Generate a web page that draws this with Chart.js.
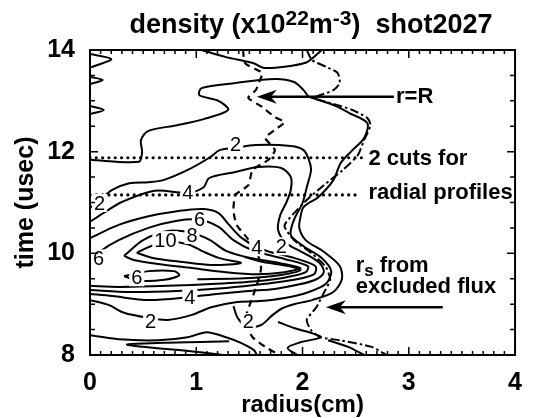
<!DOCTYPE html>
<html><head><meta charset="utf-8">
<script src="https://cdn.jsdelivr.net/npm/chart.js@4.4.1/dist/chart.umd.min.js"></script>
<style>html,body{margin:0;padding:0;background:#fff}canvas{display:block}</style>
</head><body>
<canvas id="c" width="535" height="418"></canvas>
<script>
// ---- axis ticks ----
const xTicks = [0, 1, 2, 3, 4];
const yTicks = [8, 10, 12, 14];

// ---- contour lines, points are [radius (cm), time (usec)] ----
const contourTop = [[1.05,14],[1.28,13.86],[1.54,13.74],[1.63,13.65],[1.83,13.67],[2.04,13.76],[2.15,13.94],[2.18,14]];
const wedge1 = [[0,13.92],[0.20,13.82],[0.05,13.69],[0,13.65]];
const wedge2 = [[0,13.47],[0.12,13.41],[0,13.33]];
const wedge3 = [[0,12.90],[0.13,12.82],[0,12.74]];
const contourOuter = [[0,11.84],[0.46,11.80],[0.49,11.99],[0.48,12.23],[0.55,12.41],[0.82,12.52],[1.07,12.64],[1.30,12.82],[1.21,13.00],[1.03,13.11],[1.05,13.25],[1.37,13.35],[1.74,13.43],[1.92,13.37],[2.01,13.21],[2.06,13.08],[2.15,13.02],[2.31,12.90],[2.44,12.76],[2.61,12.56],[2.58,12.27],[2.47,12.03],[2.36,11.78],[2.29,11.44],[2.15,11.11],[2.01,10.91],[1.98,10.71],[1.97,10.50],[2.03,10.26],[2.20,10.03],[2.35,9.75],[2.37,9.49],[2.29,9.24],[2.09,9.08],[1.92,9.00],[1.81,8.92],[1.72,8.79],[1.61,8.59],[1.48,8.55],[1.39,8.73],[1.35,8.96]];
const contour2 = [[0,10.89],[0.09,11.05],[0.21,11.25],[0.37,11.38],[0.55,11.40],[0.69,11.44],[0.92,11.64],[1.13,11.89],[1.22,12.03],[1.35,12.07],[1.56,12.13],[1.89,12.11],[2.01,12.03],[2.06,11.84],[2.08,11.64],[2.04,11.30],[2.00,10.99],[1.92,10.66],[1.89,10.36],[2.01,10.14],[2.18,9.91],[2.27,9.65],[2.22,9.40],[2.06,9.24],[1.83,9.12],[1.60,9.06],[1.37,9.04],[1.14,8.94],[0.96,8.79],[0.73,8.69],[0.55,8.73],[0.32,8.83],[0.18,8.98],[0,9.08]];
const contour4 = [[0,10.62],[0.14,10.81],[0.30,11.01],[0.61,11.23],[0.92,11.19],[1.07,11.30],[1.12,11.48],[1.37,11.60],[1.58,11.70],[1.80,11.68],[1.89,11.50],[1.89,11.25],[1.85,11.01],[1.79,10.75],[1.77,10.46],[1.85,10.20],[2.01,10.01],[2.16,9.81],[2.20,9.63],[2.12,9.48],[1.95,9.38],[1.74,9.30],[1.49,9.26],[1.19,9.20],[0.94,9.14],[0.55,9.08],[0.21,9.16],[0,9.20]];
const contour5 = [[0,10.30],[0.27,10.56],[0.55,10.73],[0.82,10.83],[1.07,10.87],[1.21,10.79],[1.30,10.58],[1.43,10.30],[1.63,10.07],[1.92,9.91],[2.12,9.75],[2.11,9.59],[1.92,9.48],[1.65,9.40],[1.28,9.32],[0.82,9.26],[0.37,9.24],[0,9.28]];
const contour6 = [[0,9.83],[0.09,10.03],[0.27,10.26],[0.55,10.50],[0.82,10.64],[1.03,10.66],[1.21,10.52],[1.35,10.26],[1.54,10.05],[1.83,9.89],[2.05,9.75],[2.03,9.63],[1.85,9.53],[1.56,9.45],[1.19,9.40],[0.73,9.36],[0.27,9.34],[0,9.36]];
const contour8 = [[0.32,9.95],[0.50,10.26],[0.73,10.44],[0.96,10.40],[1.13,10.26],[1.28,10.05],[1.51,9.91],[1.78,9.81],[1.98,9.71],[1.83,9.63],[1.57,9.59],[1.28,9.63],[0.96,9.71],[0.64,9.79],[0.41,9.87],[0.32,9.95]];
const contour10 = [[0.44,10.01],[0.57,10.14],[0.73,10.22],[0.92,10.18],[1.05,10.05],[1.21,9.91],[1.42,9.81],[1.14,9.77],[0.87,9.83],[0.59,9.91],[0.44,10.01]];
const contourHook = [[1.01,9.49],[1.46,9.51],[1.78,9.57],[1.98,9.67],[1.87,9.75],[1.63,9.83],[1.45,9.93]];
const contour6low = [[0.32,9.55],[0.55,9.65],[0.79,9.65],[0.84,9.57],[0.70,9.48],[0.46,9.46],[0.32,9.55]];
const contourLow = [[0,8.39],[0.27,8.31],[0.64,8.29],[0.92,8.35],[1.10,8.45],[1.28,8.35],[1.42,8.24],[1.54,8.10],[1.57,8]];
const wedgeLow = [[1.31,8.27],[0.70,8.24],[0.35,8.20],[1.01,8.06],[1.25,8]];
const contourRight = [[1.77,8.65],[1.92,8.53],[2.09,8.43],[2.17,8.35],[1.98,8.25],[1.86,8.14],[1.95,8]];
const contourEdge = [[2.24,8.29],[2.43,8.16],[2.58,8]];

// r = R (dashed) and r_s from excluded flux (dash-dot)
const rEqualsR = [[1.44,14],[1.46,13.74],[1.62,13.55],[1.60,13.41],[1.56,13.21],[1.49,13.06],[1.62,12.88],[1.74,12.68],[1.83,12.58],[1.74,12.43],[1.65,12.27],[1.74,12.03],[1.68,11.84],[1.53,11.64],[1.49,11.34],[1.37,11.15],[1.35,10.85],[1.38,10.56],[1.48,10.30],[1.57,10.03],[1.61,9.71],[1.57,9.38],[1.52,9.08],[1.48,8.85],[1.46,8.65],[1.53,8.35],[1.65,8.16],[1.78,8]];
const rsExcludedFlux = [[2.04,14],[2.09,13.80],[2.22,13.67],[2.33,13.55],[2.35,13.35],[2.29,13.21],[2.15,13.10],[2.09,13.06],[2.29,12.94],[2.47,12.82],[2.61,12.66],[2.64,12.52],[2.58,12.23],[2.52,11.93],[2.38,11.64],[2.20,11.34],[2.06,11.09],[1.92,10.79],[1.83,10.54],[1.92,10.26],[2.08,10.01],[2.22,9.73],[2.26,9.48],[2.20,9.22],[2.13,8.94],[2.04,8.69],[2.08,8.49],[2.17,8.35],[2.35,8.29],[2.65,8.16],[2.79,8]];

// two radial-profile cuts
const cutTimes = [11.88, 11.15];
const cutEnds = [2.59, 2.55];

// contour level labels
const levelLabels = ['2','2','4','4','4','2','6','6','8','10','6','2','2'];
const levelLabelR = [1.37,0.09,0.92,0.94,1.57,1.80,0.08,1.03,0.96,0.71,0.44,0.57,1.49];
const levelLabelT = [12.15,10.99,11.19,9.14,10.12,10.14,9.90,10.66,10.36,10.26,9.53,8.65,8.65];

const solidLines = [contourTop,wedge1,wedge2,wedge3,contourOuter,contour2,contour4,contour5,contour6,contour8,contour10,contourHook,contour6low,contourLow,wedgeLow,contourRight,contourEdge];

const toXY = a => a.map(p => ({x:p[0], y:p[1]}));
const datasets = [];
solidLines.forEach(l => datasets.push({data:toXY(l), showLine:true, borderColor:'#000', borderWidth:2, pointRadius:0, tension:0.3, fill:false}));
datasets.push({data:toXY(rEqualsR), showLine:true, borderColor:'#000', borderWidth:2.2, borderDash:[7,5], pointRadius:0, tension:0.2});
datasets.push({data:toXY(rsExcludedFlux), showLine:true, borderColor:'#000', borderWidth:2, borderDash:[9,3,2.5,3], pointRadius:0, tension:0.2});
cutTimes.forEach((t,i) => datasets.push({data:[{x:0,y:t},{x:cutEnds[i],y:t}], showLine:true, borderColor:'#000', borderWidth:3.2, borderDash:[0.01,6.3], borderCapStyle:'round', pointRadius:0}));

const FONT = '"Liberation Sans", Arial, sans-serif';

const decor = {
  id:'decor',
  afterDatasetsDraw(chart){
    const ctx = chart.ctx, xs = chart.scales.x, ys = chart.scales.y, a = chart.chartArea;
    const px = v => xs.getPixelForValue(v), py = v => ys.getPixelForValue(v);
    ctx.save();
    // contour labels
    ctx.font = '20px ' + FONT; ctx.textAlign='center'; ctx.textBaseline='middle';
    levelLabels.forEach((s,i) => {
      const x = px(levelLabelR[i]), y = py(levelLabelT[i]);
      const w = ctx.measureText(s).width + 4;
      ctx.fillStyle='#fff'; ctx.fillRect(x-w/2, y-9, w, 18);
      ctx.fillStyle='#000'; ctx.fillText(s, x, y+1);
    });
    // frame
    ctx.strokeStyle='#000'; ctx.lineWidth=2;
    ctx.strokeRect(a.left, a.top, a.right-a.left, a.bottom-a.top);
    // inward ticks
    ctx.lineWidth=1.5; ctx.beginPath();
    for (let i=0;i<=40;i++){ const v=i/10, x=px(v), L=(i%10===0)?8:4;
      ctx.moveTo(x,a.bottom); ctx.lineTo(x,a.bottom-L); ctx.moveTo(x,a.top); ctx.lineTo(x,a.top+L); }
    for (let i=0;i<=12;i++){ const v=8+i*0.5, y=py(v), L=(i%4===0)?8:5;
      ctx.moveTo(a.left,y); ctx.lineTo(a.left+L,y); ctx.moveTo(a.right,y); ctx.lineTo(a.right-L,y); }
    ctx.stroke();
    // arrows
    const arrow = (r1, r2, t) => {
      const x1=px(r1), x2=px(r2), y=py(t);
      ctx.lineWidth=2.6; ctx.beginPath(); ctx.moveTo(x1,y); ctx.lineTo(x2+12,y); ctx.stroke();
      ctx.beginPath(); ctx.moveTo(x2,y); ctx.lineTo(x2+20,y-7); ctx.lineTo(x2+14,y); ctx.lineTo(x2+20,y+7); ctx.closePath(); ctx.fill();
    };
    ctx.fillStyle='#000';
    arrow(2.86, 1.57, 13.08);
    arrow(3.32, 2.22, 8.94);
    // annotation texts
    ctx.textAlign='left'; ctx.textBaseline='alphabetic';
    ctx.font='bold 22px ' + FONT;
    ctx.fillText('r=R', px(2.88), py(12.95));
    ctx.fillText('2 cuts for', px(2.62), py(11.74));
    ctx.fillText('radial profiles', px(2.62), py(11.06));
    let x0 = px(2.50), yb = py(9.63);
    ctx.fillText('r', x0, yb); x0 += ctx.measureText('r').width;
    ctx.font='bold 17px ' + FONT; ctx.fillText('s', x0, yb+4); x0 += ctx.measureText('s').width;
    ctx.font='bold 22px ' + FONT; ctx.fillText(' from', x0, yb);
    ctx.fillText('excluded flux', px(2.50), py(9.22));
    ctx.restore();
  },
  afterDraw(chart){
    const ctx = chart.ctx;
    ctx.save();
    const parts = [['density (x10',27,0],['22',21,8],['m',27,0],['-3',21,8],[')  shot2027',27,0]];
    let total = 0;
    parts.forEach(p => { ctx.font='bold '+p[1]+'px '+FONT; total += ctx.measureText(p[0]).width; });
    let x = 311 - total/2; const base = 33;
    ctx.fillStyle='#000'; ctx.textAlign='left'; ctx.textBaseline='alphabetic';
    parts.forEach(p => { ctx.font='bold '+p[1]+'px '+FONT; ctx.fillText(p[0], x, base - p[2]); x += ctx.measureText(p[0]).width; });
    ctx.restore();
  }
};

new Chart(document.getElementById('c'), {
  type:'scatter',
  data:{datasets},
  options:{
    responsive:false, animation:false, devicePixelRatio:1,
    layout:{padding:{top:50,right:8,left:0,bottom:0}},
    plugins:{legend:{display:false}, tooltip:{enabled:false}, title:{display:false}},
    scales:{
      x:{type:'linear', min:0, max:4,
        afterBuildTicks: s => { s.ticks = xTicks.map(v => ({value:v})); },
        afterFit: s => { s.height = 63; },
        grid:{display:false, drawTicks:false}, border:{display:false},
        ticks:{color:'#000', padding:13, font:{family:FONT, size:25, weight:'bold'}},
        title:{display:true, text:'radius(cm)', color:'#000', font:{family:FONT, size:24, weight:'bold', lineHeight:1}, padding:{top:0,bottom:1}}
      },
      y:{type:'linear', min:8, max:14,
        afterBuildTicks: s => { s.ticks = yTicks.map(v => ({value:v})); },
        afterFit: s => { s.width = 90; },
        grid:{display:false, drawTicks:false}, border:{display:false},
        ticks:{color:'#000', padding:15, font:{family:FONT, size:25, weight:'bold'}},
        title:{display:true, text:'time (usec)', color:'#000', font:{family:FONT, size:25, weight:'bold'}, padding:{top:11,bottom:0}}
      }
    }
  },
  plugins:[decor]
});
</script>
</body></html>
